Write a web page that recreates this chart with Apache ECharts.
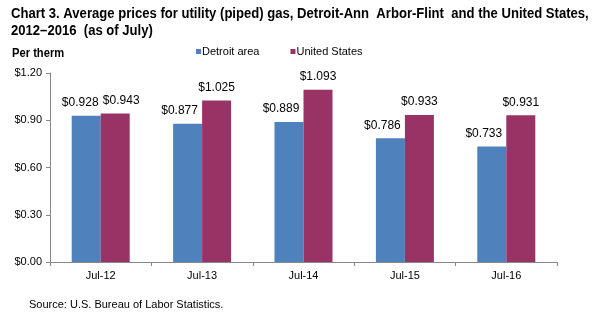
<!DOCTYPE html>
<html><head><meta charset="utf-8">
<script src="https://cdn.jsdelivr.net/npm/echarts@6/dist/echarts.min.js"></script>
<style>html,body{margin:0;padding:0;background:#fff}#c{width:598px;height:323px}</style>
</head><body><div id="c"></div>
<script>
var categories = ['Jul-12','Jul-13','Jul-14','Jul-15','Jul-16'];
var detroit = [0.928, 0.877, 0.889, 0.786, 0.733];
var us = [0.943, 1.025, 1.093, 0.933, 0.931];
var yTicks = [0, 0.3, 0.6, 0.9, 1.2];

var chart = echarts.init(document.getElementById('c'));
var sans = '"Liberation Sans",Arial,sans-serif';
function fmt(v){return '$' + v.toFixed(3);}
var titleScale = 0.935;
var usData = us.map(function(v, i){
  return i === 0 ? {value:v, label:{offset:[6,0]}} : v;
});
var detData = detroit.map(function(v, i){
  return i === 0 ? {value:v, label:{offset:[-6,0]}} : v;
});
chart.setOption({
  animation:false,
  graphic:[
    {type:'text', x:11, y:14, scaleX:titleScale, style:{text:'Chart 3. Average prices for utility (piped) gas, Detroit-Ann  Arbor-Flint  and the United States,', font:'bold 14px "Liberation Sans", Arial', fill:'#000', verticalAlign:'middle'}},
    {type:'text', x:11, y:31, scaleX:titleScale, style:{text:'2012\u20132016  (as of July)', font:'bold 14px "Liberation Sans", Arial', fill:'#000', verticalAlign:'middle'}},
    {type:'text', x:12, y:53, scaleX:0.86, style:{text:'Per therm', font:'bold 13px "Liberation Sans", Arial', fill:'#000', verticalAlign:'middle'}},
    {type:'text', x:29, y:305, style:{text:'Source: U.S. Bureau of Labor Statistics.', font:'11px "Liberation Sans", Arial', fill:'#000', verticalAlign:'middle'}}
  ],
  legend:{
    left:196, top:46, padding:0, itemWidth:5, itemHeight:5, itemGap:31, icon:'rect',
    textStyle:{fontFamily:sans, fontSize:11, color:'#000', padding:[0,0,0,-4]},
    data:['Detroit area','United States']
  },
  grid:{left:50, right:41, top:73, bottom:61},
  xAxis:{
    type:'category', data:categories,
    axisLine:{lineStyle:{color:'#888'}},
    axisTick:{show:true, length:4, lineStyle:{color:'#888'}},
    axisLabel:{fontFamily:sans, fontSize:11, color:'#000', margin:8}
  },
  yAxis:{
    type:'value', min:yTicks[0], max:yTicks[yTicks.length-1], interval:0.3,
    axisLine:{show:true, lineStyle:{color:'#888'}},
    axisTick:{show:true, length:4, lineStyle:{color:'#888'}},
    splitLine:{show:false},
    axisLabel:{fontFamily:sans, fontSize:11, color:'#000', margin:8, formatter:function(v){return '$'+v.toFixed(2);}}
  },
  series:[{
    name:'Detroit area', type:'bar', data:detData, barWidth:29, barGap:'0%',
    itemStyle:{color:'#4F81BD'},
    label:{show:true, position:'top', distance:7, offset:[-8,0], formatter:function(p){return fmt(p.value);},
      fontFamily:sans, fontSize:12, color:'#000'}
  },{
    name:'United States', type:'bar', data:usData, barWidth:29,
    itemStyle:{color:'#993366'},
    label:{show:true, position:'top', distance:7, formatter:function(p){return fmt(p.value);},
      fontFamily:sans, fontSize:12, color:'#000'}
  }]
});
</script></body></html>
